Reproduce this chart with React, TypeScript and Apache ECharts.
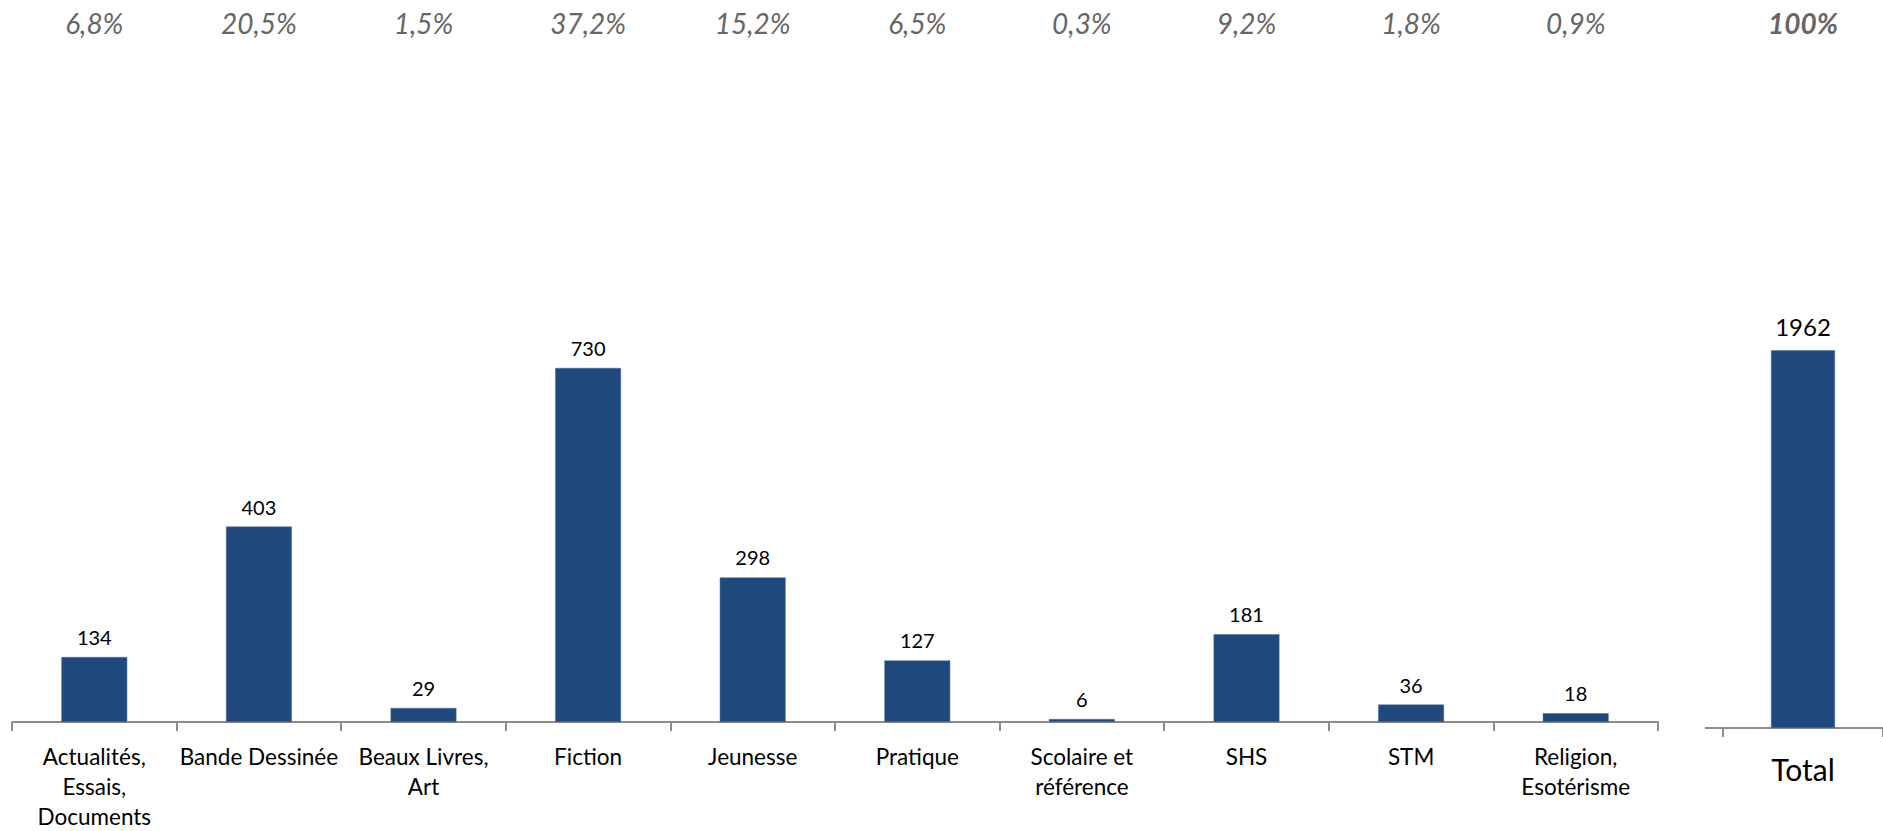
import React, { useEffect, useRef } from "react";
import * as echarts from "echarts";

const categories = [
  "Actualités,\nEssais,\nDocuments",
  "Bande Dessinée",
  "Beaux Livres,\nArt",
  "Fiction",
  "Jeunesse",
  "Pratique",
  "Scolaire et\nréférence",
  "SHS",
  "STM",
  "Religion,\nEsotérisme",
];
const values = [134, 403, 29, 730, 298, 127, 6, 181, 36, 18];
const shares = ["6,8%", "20,5%", "1,5%", "37,2%", "15,2%", "6,5%", "0,3%", "9,2%", "1,8%", "0,9%"];
const totalCategory = ["Total"];
const totalValue = [1962];
const totalShare = ["100%"];

const FONT = "Lato, 'Open Sans', 'Noto Sans', sans-serif";
const BAR = "#1F497D";
const AXIS = "#8C8C8C";

export default function App() {
  const ref = useRef<HTMLDivElement>(null);
  useEffect(() => {
    const chart = echarts.init(ref.current!, null, { renderer: "svg" });
    const leftTop = 237;
    const leftAxisY = 724;
    const rightTop = 343;
    const rightAxisY = 728;
    chart.setOption({
      animation: false,
      textStyle: { fontFamily: FONT },
      grid: [
        { left: 12, right: 225, top: leftTop, bottom: 831 - leftAxisY, containLabel: false },
        { left: 1723, right: -13, top: rightTop, bottom: 831 - rightAxisY, containLabel: false },
      ],
      xAxis: [
        {
          type: "category",
          gridIndex: 0,
          data: categories,
          axisLine: { lineStyle: { color: AXIS, width: 2 } },
          axisTick: { show: true, length: 9, lineStyle: { color: AXIS, width: 2 } },
          axisLabel: {
            interval: 0,
            margin: 19,
            fontSize: 22.5,
            lineHeight: 30,
            color: "#000",
            fontFamily: FONT,
          },
        },
        {
          type: "category",
          gridIndex: 0,
          position: "top",
          data: shares,
          axisLine: { show: false },
          axisTick: { show: false },
          axisLabel: {
            interval: 0,
            margin: leftTop - 38,
            fontSize: 28,
            lineHeight: 30,
            fontStyle: "italic",
            color: "#666666",
            fontFamily: FONT,
          },
        },
        {
          type: "category",
          gridIndex: 1,
          data: totalCategory,
          axisLine: { lineStyle: { color: AXIS, width: 2 } },
          axisTick: { show: true, length: 9, lineStyle: { color: AXIS, width: 2 } },
          axisLabel: {
            margin: 25,
            fontSize: 30,
            lineHeight: 32,
            color: "#000",
            fontFamily: FONT,
          },
        },
        {
          type: "category",
          gridIndex: 1,
          position: "top",
          data: totalShare,
          axisLine: { show: false },
          axisTick: { show: false },
          axisLabel: {
            margin: rightTop - 38,
            fontSize: 28,
            lineHeight: 30,
            fontStyle: "italic",
            fontWeight: "bold",
            color: "#666666",
            fontFamily: FONT,
          },
        },
      ],
      yAxis: [
        { type: "value", gridIndex: 0, min: 0, max: 1000, show: false, splitLine: { show: false } },
        { type: "value", gridIndex: 1, min: 0, max: 2000, show: false, splitLine: { show: false } },
      ],
      series: [
        {
          type: "bar",
          xAxisIndex: 0,
          yAxisIndex: 0,
          data: values,
          barWidth: "40%",
          itemStyle: { color: BAR, borderColor: "#4F6F9A", borderWidth: 0.5 },
          label: {
            show: true,
            position: "top",
            distance: 10,
            fontSize: 20,
            color: "#000",
            fontFamily: FONT,
          },
        },
        {
          type: "bar",
          xAxisIndex: 2,
          yAxisIndex: 1,
          data: totalValue,
          barWidth: "40%",
          itemStyle: { color: BAR, borderColor: "#4F6F9A", borderWidth: 0.5 },
          label: {
            show: true,
            position: "top",
            distance: 12,
            fontSize: 24,
            color: "#000",
            fontFamily: FONT,
          },
        },
      ],
      graphic: [
        {
          type: "line",
          shape: { x1: 1705, y1: rightAxisY, x2: 1724, y2: rightAxisY },
          style: { stroke: AXIS, lineWidth: 2 },
          silent: true,
        },
      ],
    });
    return () => chart.dispose();
  }, []);
  return (
    <div
      ref={ref}
      style={{ position: "absolute", left: 0, top: 0, width: 1883, height: 831, background: "#fff" }}
    />
  );
}
